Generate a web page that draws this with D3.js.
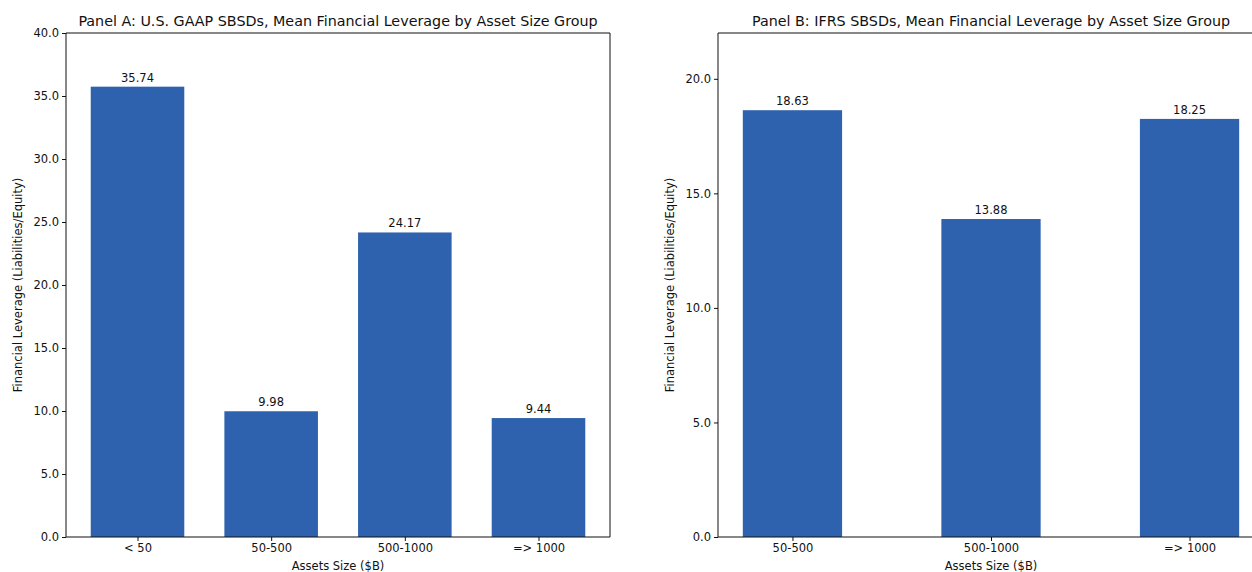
<!DOCTYPE html>
<html>
<head>
<meta charset="utf-8">
<script src="https://cdn.jsdelivr.net/npm/d3@7"></script>
<style>
  html, body { margin: 0; padding: 0; background: #fff; }
  svg { display: block; font-family: "DejaVu Sans", sans-serif; }
</style>
</head>
<body>
<svg id="chart" width="1252" height="572"></svg>
<script>
// Panel A: U.S. GAAP SBSDs
const gaapGroups = ["< 50", "50-500", "500-1000", "=> 1000"];
const gaapLeverage = [35.74, 9.98, 24.17, 9.44];
const gaapTicks = [0, 5, 10, 15, 20, 25, 30, 35, 40];

// Panel B: IFRS SBSDs
const ifrsGroups = ["50-500", "500-1000", "=> 1000"];
const ifrsLeverage = [18.63, 13.88, 18.25];
const ifrsTicks = [0, 5, 10, 15, 20];

const barColor = "#2f62ae";
const svg = d3.select("#chart");

function drawPanel(cfg) {
  const { left, right, top, bottom, groups, values, yMax, ticks, barWidth, title, rightSpine } = cfg;
  const n = groups.length;
  const pad = 0.05 * ((n - 1) + barWidth);
  const x = d3.scaleLinear()
    .domain([-barWidth / 2 - pad, (n - 1) + barWidth / 2 + pad])
    .range([left, right]);
  const y = d3.scaleLinear().domain([0, yMax]).range([bottom, top]);
  const g = svg.append("g");

  // bars
  g.selectAll("rect.bar").data(values).join("rect")
    .attr("class", "bar")
    .attr("x", (d, i) => x(i - barWidth / 2))
    .attr("width", (d, i) => x(i + barWidth / 2) - x(i - barWidth / 2))
    .attr("y", d => y(d))
    .attr("height", d => y(0) - y(d))
    .attr("fill", barColor);

  // value labels
  g.selectAll("text.val").data(values).join("text")
    .attr("class", "val")
    .attr("x", (d, i) => x(i))
    .attr("y", d => y(d) - 5)
    .attr("text-anchor", "middle")
    .attr("font-size", 11.5)
    .attr("fill", "#111")
    .text(d => d.toFixed(2));

  // y axis
  const yAxis = d3.axisLeft(y).tickValues(ticks).tickFormat(d3.format(".1f"))
    .tickSize(4).tickPadding(3);
  const ya = g.append("g").attr("transform", `translate(${left},0)`).call(yAxis);
  ya.select(".domain").remove();
  ya.selectAll("text").attr("font-size", 11.5).attr("fill", "#111").attr("font-family", "DejaVu Sans, sans-serif");
  ya.selectAll("line").attr("stroke", "#111");

  // x axis
  const xAxis = d3.axisBottom(x).tickValues(d3.range(n)).tickFormat(i => groups[i])
    .tickSize(4).tickPadding(3);
  const xa = g.append("g").attr("transform", `translate(0,${bottom})`).call(xAxis);
  xa.select(".domain").remove();
  xa.selectAll("text").attr("font-size", 11.5).attr("fill", "#111").attr("font-family", "DejaVu Sans, sans-serif");
  xa.selectAll("line").attr("stroke", "#111");

  // spines
  const spine = (x1, y1, x2, y2) => g.append("line")
    .attr("x1", x1).attr("y1", y1).attr("x2", x2).attr("y2", y2)
    .attr("stroke", "#111").attr("stroke-width", 1);
  spine(left, top, left, bottom);
  spine(left, bottom, right, bottom);
  spine(left, top, right, top);
  if (rightSpine) spine(right, top, right, bottom);

  // title and axis labels
  const cx = (left + right) / 2;
  g.append("text").attr("x", cx).attr("y", top - 7)
    .attr("text-anchor", "middle").attr("font-size", 14.3).attr("fill", "#111")
    .text(title);
  g.append("text").attr("x", cx).attr("y", bottom + 33)
    .attr("text-anchor", "middle").attr("font-size", 11.5).attr("fill", "#111")
    .text("Assets Size ($B)");
  g.append("text")
    .attr("transform", `translate(${left - 44},${(top + bottom) / 2}) rotate(-90)`)
    .attr("text-anchor", "middle").attr("font-size", 11.5).attr("fill", "#111")
    .text("Financial Leverage (Liabilities/Equity)");
}

drawPanel({
  left: 66, right: 610, top: 33, bottom: 537,
  groups: gaapGroups, values: gaapLeverage, yMax: 40, ticks: gaapTicks,
  barWidth: 0.7, rightSpine: true,
  title: "Panel A: U.S. GAAP SBSDs, Mean Financial Leverage by Asset Size Group"
});

drawPanel({
  left: 718, right: 1264, top: 33, bottom: 537,
  groups: ifrsGroups, values: ifrsLeverage, yMax: 22, ticks: ifrsTicks,
  barWidth: 0.5, rightSpine: true,
  title: "Panel B: IFRS SBSDs, Mean Financial Leverage by Asset Size Group"
});
</script>
</body>
</html>
